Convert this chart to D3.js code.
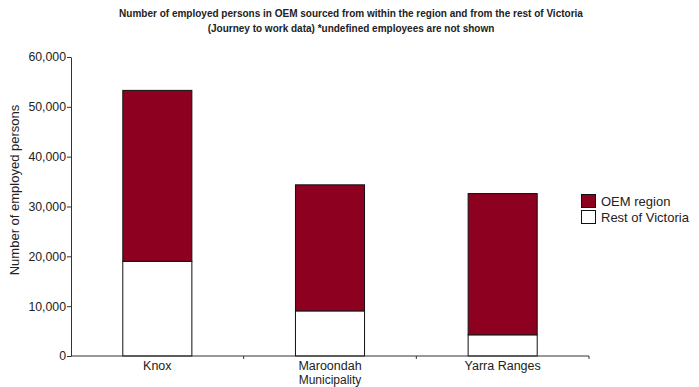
<!DOCTYPE html>
<html>
<head>
<meta charset="utf-8">
<script src="https://cdn.jsdelivr.net/npm/d3@7"></script>
<style>
  html, body { margin: 0; padding: 0; background: #fff; }
  svg { display: block; font-family: "Liberation Sans", Arial, Helvetica, sans-serif; }
</style>
</head>
<body>
<svg id="chart" width="699" height="387"></svg>
<script>
// Employed persons by municipality, split by where they live
const municipalities = ["Knox", "Maroondah", "Yarra Ranges"];
const restOfVictoria = [19000, 9050, 4250];
const oemRegion = [34300, 25300, 28350];
const seriesNames = ["OEM region", "Rest of Victoria"];
const yTicks = [0, 10000, 20000, 30000, 40000, 50000, 60000];

const svg = d3.select("#chart");
const x0 = 71, x1 = 589;
const y0 = 356, y1 = 57;

const x = d3.scaleBand().domain(municipalities).range([x0, x1]).padding(0);
const y = d3.scaleLinear().domain([0, 60000]).range([y0, y1]);
const barW = x.bandwidth() * 0.4;
const red = "#8e0020";

// Title
const title = svg.append("text")
  .attr("x", 351).attr("y", 17)
  .attr("text-anchor", "middle")
  .style("font-size", "10px").style("font-weight", "bold").attr("fill", "#222");
title.append("tspan").attr("x", 351).attr("dy", 0)
  .text("Number of employed persons in OEM sourced from within the region and from the rest of Victoria");
title.append("tspan").attr("x", 351).attr("dy", 15)
  .text("(Journey to work data) *undefined employees are not shown");

// Stacked bars
const stackData = municipalities.map((m, i) => ({ m, rest: restOfVictoria[i], oem: oemRegion[i] }));
const g = svg.append("g");
stackData.forEach(d => {
  const bx = x(d.m) + (x.bandwidth() - barW) / 2;
  g.append("rect")
    .attr("x", bx).attr("y", y(d.rest))
    .attr("width", barW).attr("height", y(0) - y(d.rest))
    .attr("fill", "#fff").attr("stroke", "#111").attr("stroke-width", 1);
  g.append("rect")
    .attr("x", bx).attr("y", y(d.rest + d.oem))
    .attr("width", barW).attr("height", y(d.rest) - y(d.rest + d.oem))
    .attr("fill", red).attr("stroke", "#111").attr("stroke-width", 1);
});

// Y axis
const yAxis = d3.axisLeft(y).tickValues(yTicks).tickSize(4).tickSizeOuter(0)
  .tickFormat(d3.format(","));
const ya = svg.append("g").attr("transform", `translate(${x0},0)`).call(yAxis);
ya.attr("font-family", null).attr("font-size", null);
ya.select(".domain").attr("stroke", "#333");
ya.selectAll(".tick line").attr("stroke", "#333");
ya.selectAll(".tick text").attr("fill", "#222").style("font-size", "12.3px").attr("x", -5);

// X axis: ticks sit on category boundaries
const xa = svg.append("g").attr("transform", `translate(0,${y0})`);
xa.append("line").attr("x1", x0).attr("x2", x1).attr("y1", 0).attr("y2", 0).attr("stroke", "#333");
const bounds = municipalities.map(m => x(m) + x.bandwidth());
xa.selectAll(".bt").data(bounds).join("line")
  .attr("x1", d => d).attr("x2", d => d).attr("y1", 0).attr("y2", 3).attr("stroke", "#333");
xa.selectAll(".cl").data(municipalities).join("text")
  .attr("x", d => x(d) + x.bandwidth() / 2).attr("y", 14)
  .attr("text-anchor", "middle").style("font-size", "12.5px").attr("fill", "#222")
  .text(d => d);

// Axis titles
svg.append("text")
  .attr("x", x(municipalities[1]) + x.bandwidth() / 2).attr("y", 384)
  .attr("text-anchor", "middle").style("font-size", "12px").attr("fill", "#222")
  .text("Municipality");
svg.append("text")
  .attr("transform", `translate(19,190) rotate(-90)`)
  .attr("text-anchor", "middle").style("font-size", "13px").attr("fill", "#222")
  .text("Number of employed persons");

// Legend
const leg = svg.append("g").attr("transform", "translate(581,194)");
seriesNames.forEach((s, i) => {
  leg.append("rect").attr("x", 0.5).attr("y", i * 16 + 0.5).attr("width", 14).attr("height", 13)
    .attr("fill", i === 0 ? red : "#fff").attr("stroke", "#111");
  leg.append("text").attr("x", 20).attr("y", i * 16 + 11.5)
    .style("font-size", "13px").attr("fill", "#222").text(s);
});
</script>
</body>
</html>
